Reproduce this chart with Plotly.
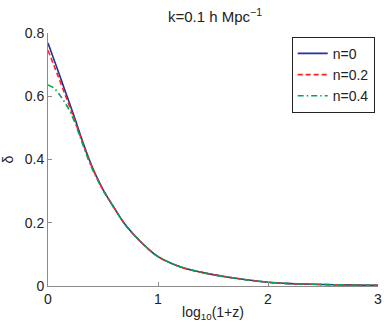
import plotly.graph_objects as go

log1pz = [0.0, 0.05, 0.1, 0.15, 0.2, 0.25, 0.3, 0.35, 0.4, 0.45, 0.5, 0.6, 0.7, 0.8, 0.9, 1.0,
          1.2, 1.4, 1.6, 1.8, 2.0, 2.2, 2.4, 2.6, 2.8, 3.0]
delta_n0 = [0.768, 0.720, 0.672, 0.622, 0.574, 0.524, 0.472, 0.423, 0.378, 0.340, 0.305, 0.248, 0.195,
            0.155, 0.121, 0.093, 0.061, 0.043, 0.030, 0.020, 0.012, 0.0075, 0.0055, 0.004, 0.003, 0.002]
delta_n02 = [0.745, 0.701, 0.656, 0.610, 0.564, 0.517, 0.468, 0.420, 0.376, 0.339, 0.305, 0.248, 0.195,
             0.155, 0.121, 0.093, 0.061, 0.043, 0.030, 0.020, 0.012, 0.0075, 0.0055, 0.004, 0.003, 0.002]
delta_n04 = [0.636, 0.627, 0.607, 0.582, 0.552, 0.512, 0.463, 0.415, 0.372, 0.336, 0.303, 0.247, 0.195,
             0.155, 0.121, 0.093, 0.061, 0.043, 0.030, 0.020, 0.012, 0.0075, 0.0055, 0.004, 0.003, 0.002]
names = ["n=0", "n=0.2", "n=0.4"]

font = "Liberation Sans, Arial, sans-serif"
fig = go.Figure()
fig.add_trace(go.Scatter(x=log1pz, y=delta_n0, mode="lines", name=names[0],
                         line=dict(color="#25309a", width=1.6, dash="solid", shape="spline")))
fig.add_trace(go.Scatter(x=log1pz, y=delta_n02, mode="lines", name=names[1],
                         line=dict(color="#ff2020", width=1.6, dash="5px,3px", shape="spline")))
fig.add_trace(go.Scatter(x=log1pz, y=delta_n04, mode="lines", name=names[2],
                         line=dict(color="#00a651", width=1.6, dash="6px,3px,1.5px,3px", shape="spline")))

axis_common = dict(showgrid=False, zeroline=False, showline=True, linecolor="#8c8c8c", linewidth=1,
                   ticks="inside", ticklen=4, tickcolor="#8c8c8c", mirror=False,
                   tickfont=dict(family=font, size=14, color="#222"))
fig.update_layout(
    width=389, height=327,
    margin=dict(l=48, r=7, t=33, b=41),
    paper_bgcolor="white", plot_bgcolor="white",
    title=dict(text="k=0.1 h Mpc<sup>−1</sup>", x=(48 + 382) / 2 / 389, xanchor="center",
               y=1 - 17 / 327, yanchor="middle", font=dict(family=font, size=15, color="#222")),
    xaxis=dict(range=[0, 3], tickvals=[0, 1, 2, 3],
               title=dict(text="log<sub>10</sub>(1+z)", standoff=1, font=dict(family=font, size=14, color="#222")),
               **axis_common),
    yaxis=dict(range=[0, 0.8], tickvals=[0, 0.2, 0.4, 0.6, 0.8], ticktext=["0", "0.2", "0.4", "0.6", "0.8"],
               title=dict(text="δ", standoff=8, font=dict(family=font, size=14, color="#222")),
               **axis_common),
    legend=dict(x=0.99, xanchor="right", y=0.985, yanchor="top", bgcolor="white",
                bordercolor="#222", borderwidth=1, itemwidth=30, tracegroupgap=0,
                font=dict(family=font, size=14, color="#222")),
    showlegend=True,
)
fig.write_html("out.html", config={"displayModeBar": False},
               post_script="document.body.style.margin='0';document.body.style.padding='0';")
